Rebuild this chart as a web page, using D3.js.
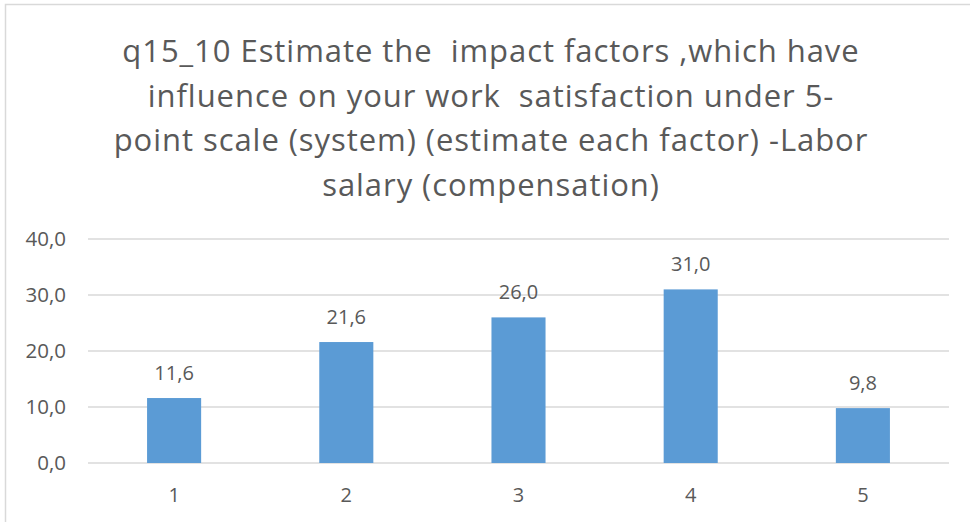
<!DOCTYPE html>
<html>
<head>
<meta charset="utf-8">
<script src="https://cdn.jsdelivr.net/npm/d3@7"></script>
<style>
  body { margin: 0; background: #fff; }
  text { font-family: "Open Sans", sans-serif; fill: #595959; }
</style>
</head>
<body>
<svg id="chart"></svg>
<script>
// values
const categories = ["1", "2", "3", "4", "5"]
const values = [11.6, 21.6, 26.0, 31.0, 9.8]
const yTicks = [0, 10, 20, 30, 40]
const titleLines = [
  "q15_10 Estimate the  impact factors ,which have",
  "influence on your work  satisfaction under 5-",
  "point scale (system) (estimate each factor) -Labor",
  "salary (compensation)"
]

const width = 970
const height = 522
const margin = { top: 239, right: 21, bottom: 59, left: 88 }

const svg = d3.select("#chart")
              .attr("width", width)
              .attr("height", height)

// chart frame
svg.append("path")
   .attr("d", "M5.5,522 V4.5 H970")
   .attr("fill", "none")
   .attr("stroke", "#d9d9d9")
   .attr("stroke-width", 1.5)

const fmt = d => d3.format(".1f")(d).replace(".", ",")

const x = d3.scaleBand()
            .domain(categories)
            .range([margin.left, width - margin.right])
            .paddingInner(0.686)
            .paddingOuter(0.343)

const y = d3.scaleLinear()
            .domain([0, 40])
            .range([height - margin.bottom, margin.top])

// title
svg.append("g")
   .selectAll("text")
   .data(titleLines)
   .join("text")
   .attr("x", 491)
   .attr("y", (d, i) => 62 + i * 44.7)
   .attr("text-anchor", "middle")
   .attr("font-size", 31)
   .attr("letter-spacing", 0.95)
   .style("white-space", "pre")
   .text(d => d)

// gridlines
svg.append("g")
   .selectAll("line")
   .data(yTicks)
   .join("line")
   .attr("x1", margin.left)
   .attr("x2", width - margin.right)
   .attr("y1", d => y(d))
   .attr("y2", d => y(d))
   .attr("stroke", "#d9d9d9")
   .attr("stroke-width", 1.5)

// y axis labels
const yAxis = svg.append("g")
                 .attr("transform", "translate(" + 66 + ",0)")
                 .call(d3.axisLeft(y).tickValues(yTicks).tickFormat(fmt).tickSize(0).tickPadding(0))
yAxis.select(".domain").remove()
yAxis.selectAll("text")
     .attr("font-size", 20.5)
     .attr("font-family", "Open Sans")
     .attr("fill", "#595959")

// x axis labels
const xAxis = svg.append("g")
                 .attr("transform", "translate(0," + y(0) + ")")
                 .call(d3.axisBottom(x).tickSize(0).tickPadding(25))
xAxis.select(".domain").remove()
xAxis.selectAll("text")
     .attr("font-size", 20)
     .attr("font-family", "Open Sans")
     .attr("fill", "#595959")

// bars
svg.append("g")
   .selectAll("rect")
   .data(values)
   .join("rect")
   .attr("x", (d, i) => x(categories[i]))
   .attr("width", x.bandwidth())
   .attr("y", d => y(d))
   .attr("height", d => y(0) - y(d))
   .attr("fill", "#5b9bd5")

// data labels
svg.append("g")
   .selectAll("text")
   .data(values)
   .join("text")
   .attr("x", (d, i) => x(categories[i]) + x.bandwidth() / 2)
   .attr("y", d => y(d) - 18)
   .attr("text-anchor", "middle")
   .attr("font-size", 20)
   .text(fmt)
</script>
</body>
</html>
